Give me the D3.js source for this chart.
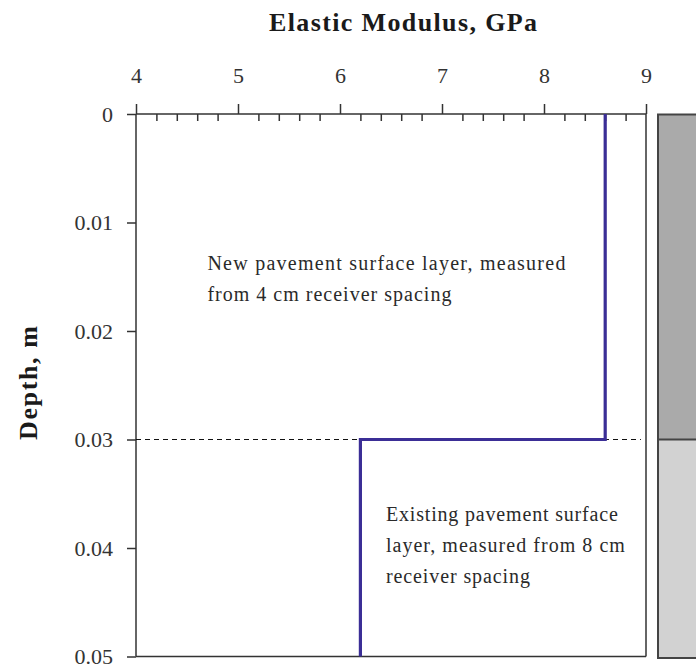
<!DOCTYPE html>
<html>
<head>
<meta charset="utf-8">
<script src="https://cdn.jsdelivr.net/npm/d3@7"></script>
<style>
  html, body { margin: 0; padding: 0; background: #fff; }
  svg { display: block; }
</style>
</head>
<body>
<svg id="chart" width="696" height="672"></svg>
<script>
// Modulus profile with depth (step function across two layers)
const profileModulus = [8.6, 8.6, 6.2, 6.2];     // GPa
const profileDepth   = [0, 0.03, 0.03, 0.05];    // m
const layerBoundary  = 0.03;                      // m
const xTicks = [4, 5, 6, 7, 8, 9];
const xMinorTicks = [4.2, 4.4, 4.6, 4.8, 5.2, 5.4, 5.6, 5.8, 6.2, 6.4, 6.6, 6.8,
                     7.2, 7.4, 7.6, 7.8, 8.2, 8.4, 8.6, 8.8];
const yTicks = [0, 0.01, 0.02, 0.03, 0.04, 0.05];
const layers = [
  { name: "New surface layer", top: 0, bottom: 0.03 },
  { name: "Existing surface layer", top: 0.03, bottom: 0.05 }
];
const notes = [
  { lines: ["New pavement surface layer, measured", "from 4 cm receiver spacing"],
    modulus: 4.7, depth: 0.0144, widths: [358, 244] },
  { lines: ["Existing pavement surface", "layer, measured from 8 cm", "receiver spacing"],
    modulus: 6.45, depth: 0.0375, widths: [232, 239, 144] }
];

const svg = d3.select("#chart");
const font = "'Liberation Serif', 'Times New Roman', serif";
const ink = "#333";

const x = d3.scaleLinear().domain([4, 9]).range([136, 646]);
const y = d3.scaleLinear().domain([0, 0.05]).range([114, 656.5]);

// Title
svg.append("text")
  .attr("x", 403).attr("y", 31)
  .attr("text-anchor", "middle")
  .attr("font-family", font).attr("font-weight", "bold").attr("font-size", 26)
  .attr("textLength", 268).attr("lengthAdjust", "spacing")
  .attr("fill", "#1a1a1a")
  .text("Elastic Modulus, GPa");

// Y axis title
svg.append("text")
  .attr("transform", "translate(37,383) rotate(-90)")
  .attr("text-anchor", "middle")
  .attr("font-family", font).attr("font-weight", "bold").attr("font-size", 26)
  .attr("textLength", 114).attr("lengthAdjust", "spacing")
  .attr("fill", "#1a1a1a")
  .text("Depth, m");

// Minor ticks hanging below the top axis
const xMinor = svg.append("g")
  .attr("transform", `translate(0,${y(0)})`)
  .call(d3.axisTop(x).tickValues(xMinorTicks).tickSize(-7).tickFormat(""));
xMinor.select(".domain").remove();

// Major ticks and labels on the top axis
const xAxis = svg.append("g")
  .attr("transform", `translate(0,${y(0)})`)
  .call(d3.axisTop(x).tickValues(xTicks).tickSize(10).tickPadding(21).tickFormat(d3.format("d")));

// Left axis
const yAxis = svg.append("g")
  .attr("transform", `translate(${x(4)},0)`)
  .call(d3.axisLeft(y).tickValues(yTicks).tickSize(9).tickPadding(14)
    .tickFormat(d => d === 0 ? "0" : d3.format(".2f")(d)));

[xAxis, yAxis, xMinor].forEach(g => {
  g.selectAll("path, line").attr("stroke", ink).attr("stroke-width", 1.5);
  g.selectAll("text")
    .attr("font-family", font).attr("font-size", 22)
    .attr("fill", ink);
});
xAxis.select(".domain").attr("d", `M${x(4)},0H${x(9)}`);
yAxis.select(".domain").attr("d", `M0,${y(0)}V${y(0.05)}`);

// Frame: bottom and right edges
svg.append("line")
  .attr("x1", x(4)).attr("x2", x(9)).attr("y1", y(0.05)).attr("y2", y(0.05))
  .attr("stroke", ink).attr("stroke-width", 1.5);
svg.append("line")
  .attr("x1", x(9)).attr("x2", x(9)).attr("y1", y(0)).attr("y2", y(0.05))
  .attr("stroke", ink).attr("stroke-width", 1.5);

// Layer boundary
svg.append("line")
  .attr("x1", x(4)).attr("x2", x(8.95))
  .attr("y1", y(layerBoundary)).attr("y2", y(layerBoundary))
  .attr("stroke", "#111").attr("stroke-width", 1)
  .attr("stroke-dasharray", "5,4");

// Modulus profile
const pts = profileModulus.map((m, i) => [m, profileDepth[i]]);
svg.append("path")
  .datum(pts)
  .attr("d", d3.line().x(d => x(d[0])).y(d => y(d[1])))
  .attr("fill", "none")
  .attr("stroke", "#3b2e96").attr("stroke-width", 3.2)
  .attr("stroke-linejoin", "miter");

// Pavement cross-section strip
const layerFill = ["#aaaaaa", "#d2d2d2"];
svg.append("g").selectAll("rect")
  .data(layers).join("rect")
  .attr("x", 658).attr("width", 60)
  .attr("y", d => y(d.top) + (d.top === 0 ? 0.5 : 0))
  .attr("height", d => y(d.bottom) - y(d.top) + (d.bottom === 0.05 ? 1.5 : 0))
  .attr("fill", (d, i) => layerFill[i])
  .attr("stroke", "#444").attr("stroke-width", 2);

// Layer notes
notes.forEach(n => {
  const t = svg.append("text")
    .attr("font-family", font).attr("font-size", 20)
    .attr("fill", "#2a2a2a");
  n.lines.forEach((line, i) => {
    t.append("tspan")
      .attr("x", x(n.modulus))
      .attr("y", y(n.depth) + i * 31)
      .attr("textLength", n.widths[i])
      .attr("lengthAdjust", "spacing")
      .text(line);
  });
});
</script>
</body>
</html>
